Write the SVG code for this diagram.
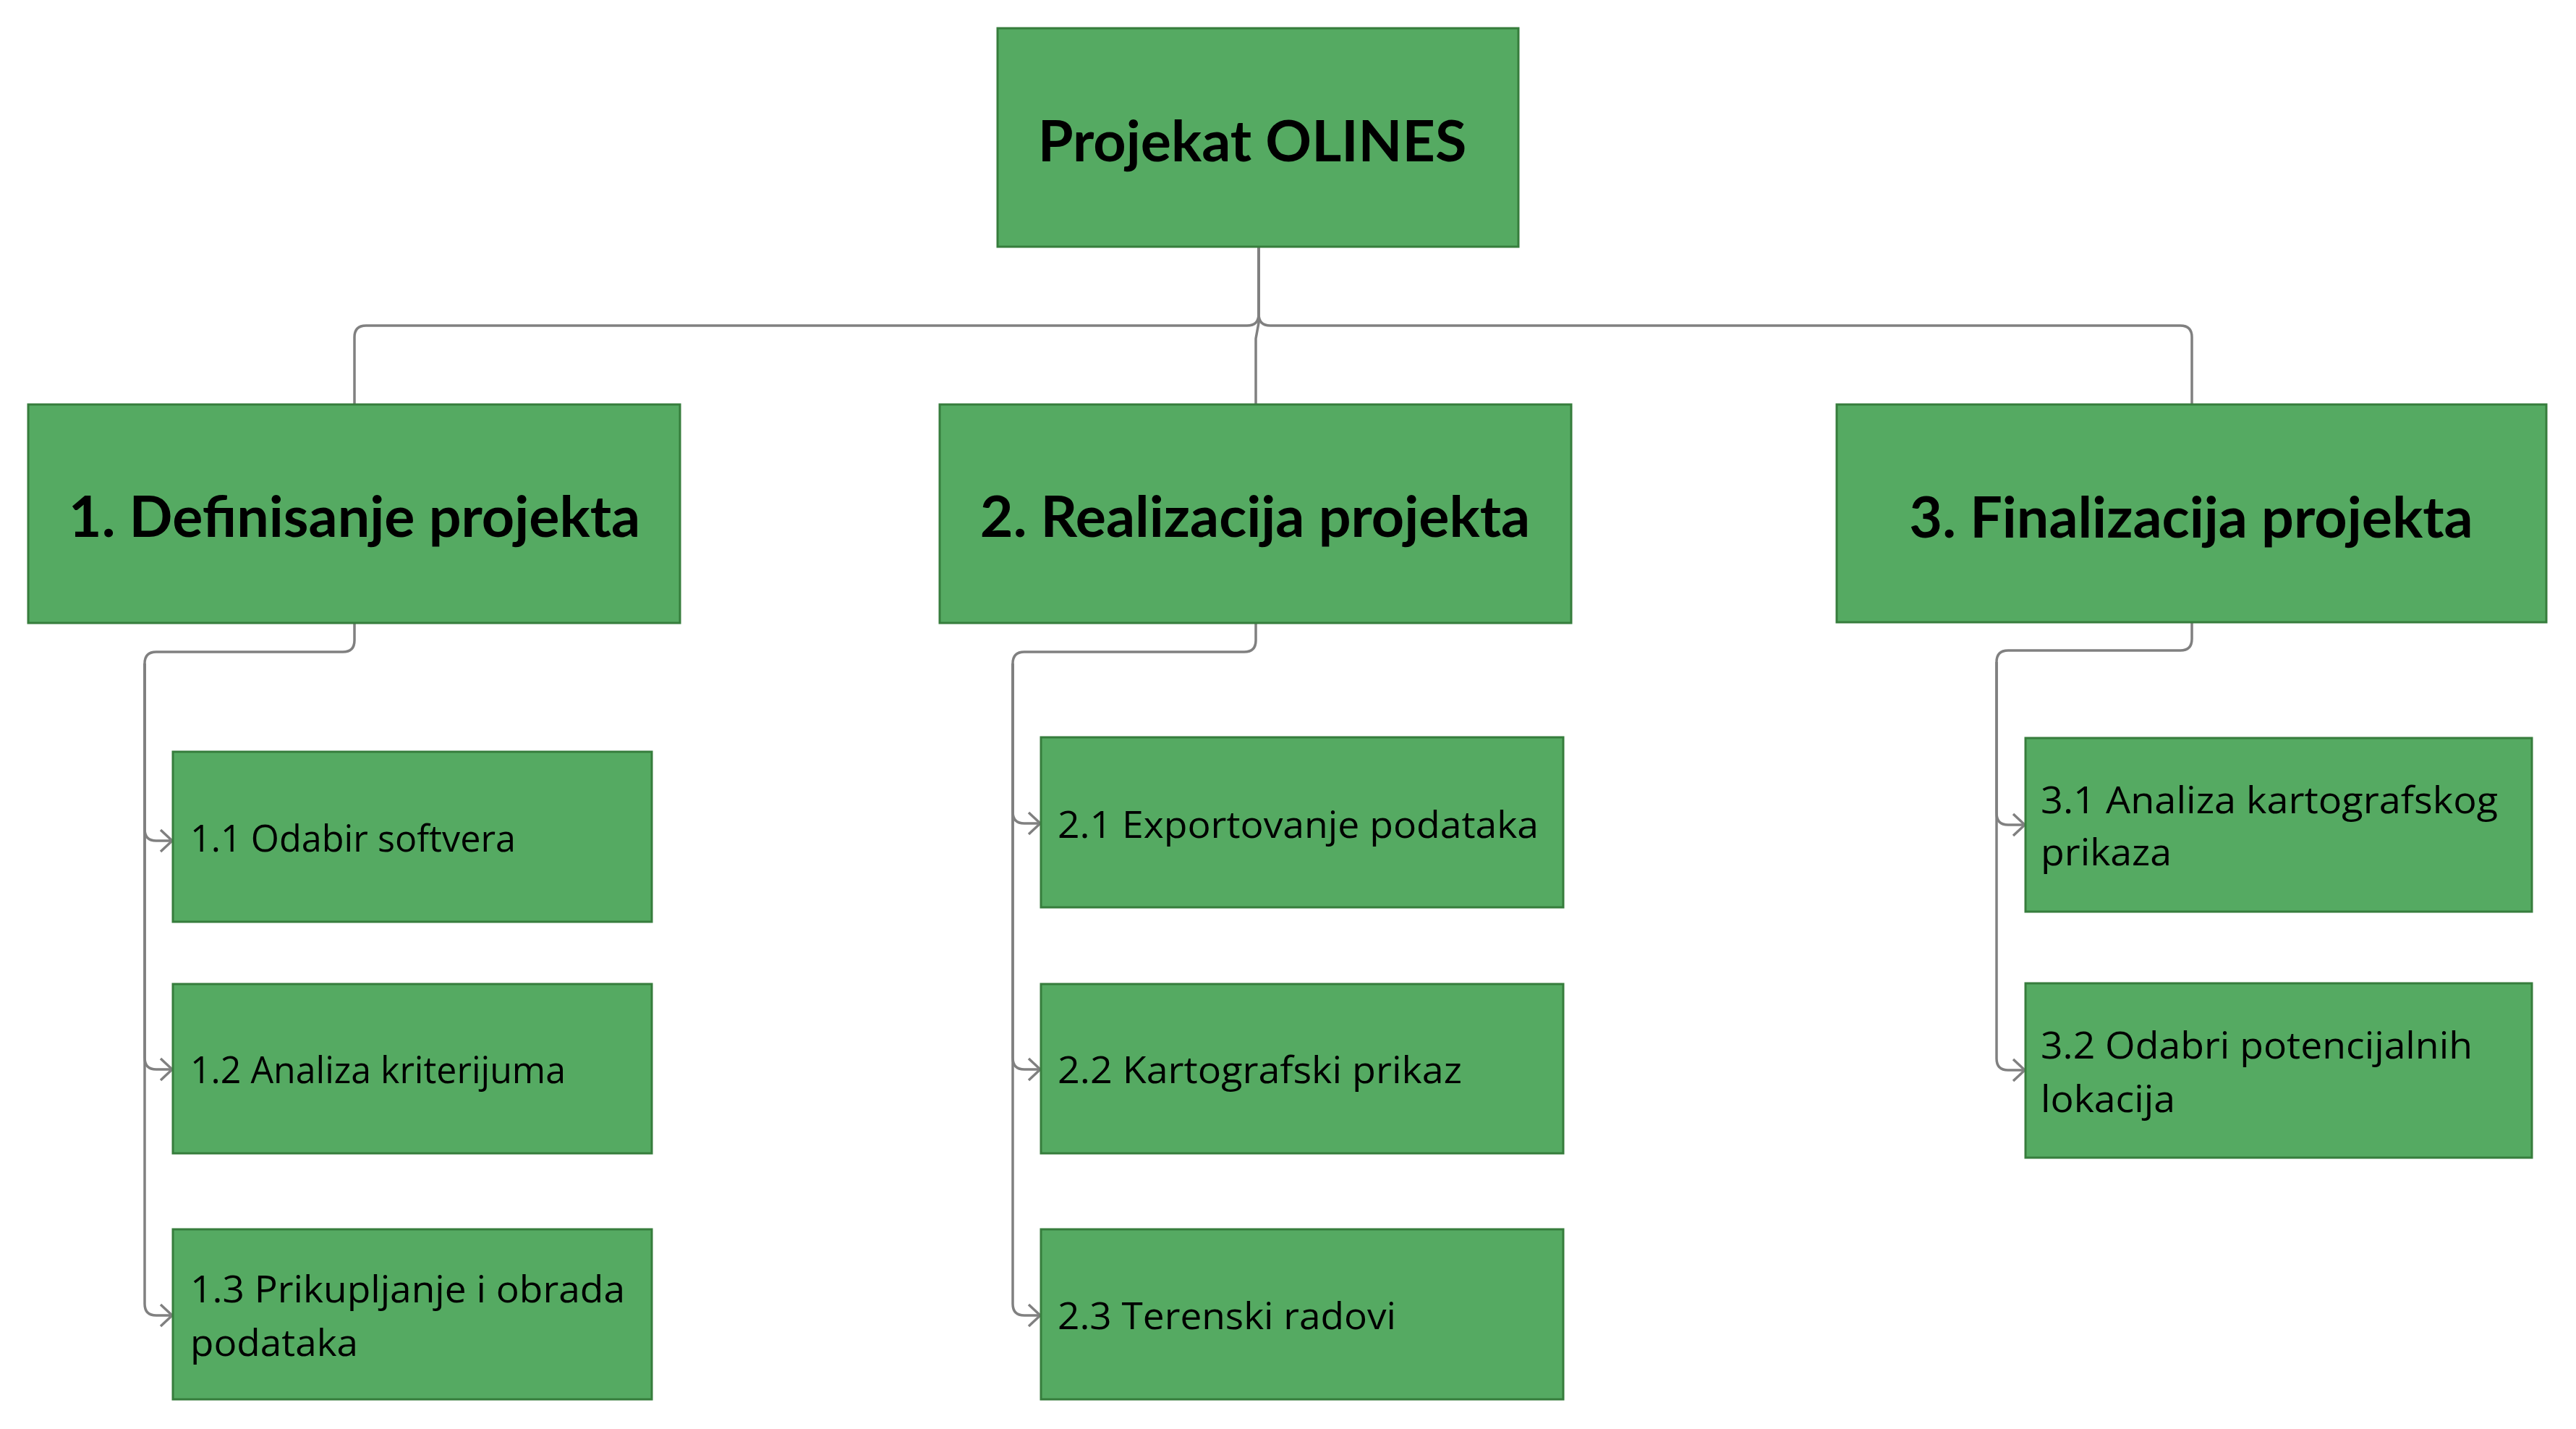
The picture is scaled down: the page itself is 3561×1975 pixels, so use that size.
<svg xmlns="http://www.w3.org/2000/svg" width="3561" height="1975" viewBox="0 0 3561 1975">
<style>
.box{fill:#55aa62;stroke:#367d3c;stroke-width:3}
.h{font-family:Lato,"Liberation Sans",sans-serif;font-weight:bold;fill:#000;text-anchor:middle}
.t{font-family:"Open Sans","Noto Sans","Liberation Sans",sans-serif;font-size:52px;fill:#000}
.c{fill:none;stroke:#808080;stroke-width:3.5}
</style>
<defs>
<marker id="arr" viewBox="0 0 22 34" refX="20" refY="17" markerWidth="22" markerHeight="34" markerUnits="userSpaceOnUse" orient="auto">
<path d="M3,2 L19,17 L3,32" fill="none" stroke="#808080" stroke-width="3.5"/>
</marker>
</defs>
<rect width="3561" height="1975" fill="#fff"/>
<g id="connectors">
<path class="c" d="M1740 341 L1740 434 Q1740 450 1724 450 L506 450 Q490 450 490 466 L490 559"/>
<path class="c" d="M1740 341 L1740 434 Q1740 450 1756 450 L3014 450 Q3030 450 3030 466 L3030 559"/>
<path class="c" d="M1740 341 L1740 446 L1736 468 L1736 559"/>
<path class="c" marker-end="url(#arr)" d="M490 861 L490 885 Q490 901 474 901 L216 901 Q200 901 200 917 L200 1146 Q200 1162 216 1162 L239 1162"/>
<path class="c" marker-end="url(#arr)" d="M200 917 L200 1462 Q200 1478 216 1478 L239 1478"/>
<path class="c" marker-end="url(#arr)" d="M200 917 L200 1802 Q200 1818 216 1818 L239 1818"/>
<path class="c" marker-end="url(#arr)" d="M1736 861 L1736 885 Q1736 901 1720 901 L1416 901 Q1400 901 1400 917 L1400 1122 Q1400 1138 1416 1138 L1439 1138"/>
<path class="c" marker-end="url(#arr)" d="M1400 917 L1400 1462 Q1400 1478 1416 1478 L1439 1478"/>
<path class="c" marker-end="url(#arr)" d="M1400 917 L1400 1802 Q1400 1818 1416 1818 L1439 1818"/>
<path class="c" marker-end="url(#arr)" d="M3030 860 L3030 883 Q3030 899 3014 899 L2776 899 Q2760 899 2760 915 L2760 1124 Q2760 1140 2776 1140 L2800 1140"/>
<path class="c" marker-end="url(#arr)" d="M2760 915 L2760 1463 Q2760 1479 2776 1479 L2800 1479"/>
</g>
<g id="root">
<rect class="box" x="1379" y="39" width="720" height="302"/>
<text class="h" x="1731" y="223" font-size="79" font-weight="600">Projekat OLINES</text>
</g>
<g id="n1">
<rect class="box" x="39" y="559" width="901" height="302"/>
<text class="h" x="490" y="742" font-size="79">1. Definisanje projekta</text>
</g>
<g id="n2">
<rect class="box" x="1299" y="559" width="873" height="302"/>
<text class="h" x="1735" y="742" font-size="79">2. Realizacija projekta</text>
</g>
<g id="n3">
<rect class="box" x="2539" y="559" width="981" height="301"/>
<text class="h" x="3029" y="743" font-size="79">3. Finalizacija projekta</text>
</g>
<g id="n11">
<rect class="box" x="239" y="1039" width="662" height="235"/>
<text class="t" x="263" y="1177" textLength="450" lengthAdjust="spacingAndGlyphs">1.1 Odabir softvera</text>
</g>
<g id="n12">
<rect class="box" x="239" y="1360" width="662" height="234"/>
<text class="t" x="263" y="1497" textLength="519" lengthAdjust="spacingAndGlyphs">1.2 Analiza kriterijuma</text>
</g>
<g id="n13">
<rect class="box" x="239" y="1699" width="662" height="235"/>
<text class="t" x="263" y="1800" textLength="601" lengthAdjust="spacingAndGlyphs">1.3 Prikupljanje i obrada</text>
<text class="t" x="263" y="1874" textLength="232" lengthAdjust="spacingAndGlyphs">podataka</text>
</g>
<g id="n21">
<rect class="box" x="1439" y="1019" width="722" height="235"/>
<text class="t" x="1462" y="1158" textLength="665" lengthAdjust="spacingAndGlyphs">2.1 Exportovanje podataka</text>
</g>
<g id="n22">
<rect class="box" x="1439" y="1360" width="722" height="234"/>
<text class="t" x="1462" y="1497" textLength="559" lengthAdjust="spacingAndGlyphs">2.2 Kartografski prikaz</text>
</g>
<g id="n23">
<rect class="box" x="1439" y="1699" width="722" height="235"/>
<text class="t" x="1462" y="1837" textLength="468" lengthAdjust="spacingAndGlyphs">2.3 Terenski radovi</text>
</g>
<g id="n31">
<rect class="box" x="2800" y="1020" width="700" height="240"/>
<text class="t" x="2821" y="1124" textLength="632" lengthAdjust="spacingAndGlyphs">3.1 Analiza kartografskog</text>
<text class="t" x="2821" y="1196" textLength="181" lengthAdjust="spacingAndGlyphs">prikaza</text>
</g>
<g id="n32">
<rect class="box" x="2800" y="1359" width="700" height="241"/>
<text class="t" x="2821" y="1463" textLength="597" lengthAdjust="spacingAndGlyphs">3.2 Odabri potencijalnih</text>
<text class="t" x="2821" y="1537" textLength="186" lengthAdjust="spacingAndGlyphs">lokacija</text>
</g>
</svg>
